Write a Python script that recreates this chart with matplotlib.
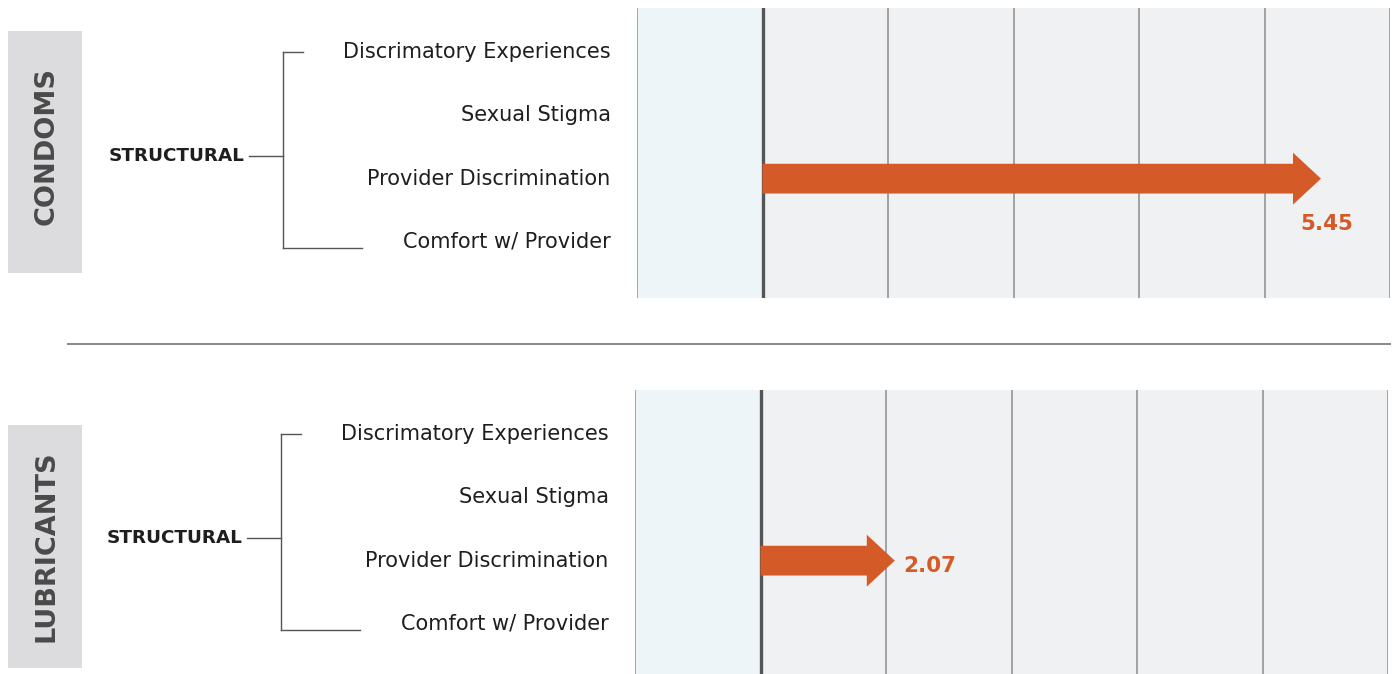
import matplotlib
matplotlib.use("Agg")
import matplotlib.pyplot as plt
from matplotlib.patches import FancyArrow, Rectangle
from matplotlib.lines import Line2D

# ---- data ----
panels = ["CONDOMS", "LUBRICANTS"]
group_label = "STRUCTURAL"
categories = ["Discrimatory Experiences", "Sexual Stigma", "Provider Discrimination", "Comfort w/ Provider"]
condoms_values = [None, None, 5.45, None]
lubricants_values = [None, None, 2.07, None]
panel_values = [condoms_values, lubricants_values]
x_ticks = [0, 1, 2, 3, 4, 5, 6]
null_value = 1

# ---- style ----
ORANGE = "#D45A28"
BLUE_BG = "#EDF5F8"
GRAY_BG = "#F0F1F3"
GRID = "#8C8C8C"
NULL_LINE = "#555555"
BAND = "#DCDCDE"
BAND_TEXT = "#4A4A4A"
TEXT = "#1E1E1E"
LABEL_FONT = "DejaVu Sans"
HEAVY_FONT = "DejaVu Sans"

W, H = 1395, 674
fig = plt.figure(figsize=(W / 100, H / 100), dpi=100)
fig.patch.set_facecolor("white")

# axes positions (pixels): left, top, width, height
axes_px = [(637, 8, 753, 290), (635, 390, 753, 290)]
ylim = (3.885, -0.695)
band_px = [(31, 273), (425, 668)]
band_text_shift = [-0.1, 0.0]
group_y = 1.65

for pi, (panel, vals) in enumerate(zip(panels, panel_values)):
    l, t, w, h = axes_px[pi]
    ax = fig.add_axes([l / W, 1 - (t + h) / H, w / W, h / H])
    ax.set_xlim(x_ticks[0], x_ticks[-1])
    ax.set_ylim(*ylim)
    ax.axvspan(x_ticks[0], null_value, color=BLUE_BG, lw=0, zorder=0)
    ax.axvspan(null_value, x_ticks[-1], color=GRAY_BG, lw=0, zorder=0)
    for xt in x_ticks:
        if xt == null_value:
            ax.axvline(xt, color=NULL_LINE, lw=2.4, zorder=3)
        else:
            ax.axvline(xt, color=GRID, lw=1.1, zorder=1)
    for s in ax.spines.values():
        s.set_visible(False)
    ax.set_xticks([])
    ax.set_yticks(range(len(categories)))
    ax.set_yticklabels(categories, fontsize=15, family=LABEL_FONT, color=TEXT, va="center")
    ax.tick_params(axis="y", length=0, pad=19)

    # arrows
    for i, v in enumerate(vals):
        if v is None:
            continue
        arr = FancyArrow(null_value, i, v - null_value, 0, width=0.47, head_width=0.82,
                         head_length=0.223, length_includes_head=True,
                         color=ORANGE, lw=0, zorder=4)
        ax.add_patch(arr)
        if pi == 0:
            ax.text(v + 0.05, i + 0.72, f"{v:.2f}", color=ORANGE, fontsize=15.5, fontweight="bold",
                    family=HEAVY_FONT, ha="center", va="center", zorder=5)
        else:
            ax.text(v + 0.07, i + 0.08, f"{v:.2f}", color=ORANGE, fontsize=15.5, fontweight="bold",
                    family=HEAVY_FONT, ha="left", va="center", zorder=5)

    tr = ax.get_yaxis_transform()

    def fx(px):
        return (px - l) / w

    # bracket
    bx = fx(l - 354)
    lc = "#555555"
    ax.add_line(Line2D([bx, bx], [0, 3.1], transform=tr, color=lc, lw=1.0, clip_on=False))
    ax.add_line(Line2D([bx, fx(l - 334)], [0, 0], transform=tr, color=lc, lw=1.0, clip_on=False))
    ax.add_line(Line2D([bx, fx(l - 275)], [3.1, 3.1], transform=tr, color=lc, lw=1.0, clip_on=False))
    ax.add_line(Line2D([fx(l - 388), bx], [group_y, group_y], transform=tr, color=lc, lw=1.0, clip_on=False))
    ax.text(fx(l - 393), group_y, group_label, transform=tr, ha="right", va="center",
            fontsize=13.2, fontweight="bold", family=HEAVY_FONT, color=TEXT, clip_on=False)

    # side band
    bt, bb = band_px[pi]
    y0 = (bt - t) / 63.3 + ylim[1]
    y1 = (bb - t) / 63.3 + ylim[1]
    ax.add_patch(Rectangle((fx(8), y0), fx(82) - fx(8), y1 - y0, transform=tr,
                           facecolor=BAND, edgecolor="none", clip_on=False))
    ax.text((fx(10) + fx(84)) / 2, (y0 + y1) / 2 + band_text_shift[pi], panel, transform=tr,
            rotation=90, ha="center", va="center", fontsize=19.5, fontweight="bold",
            family=HEAVY_FONT, color=BAND_TEXT, clip_on=False)

# separator line
fig.add_artist(Line2D([68 / W, 1390 / W], [1 - 344 / H, 1 - 344 / H], color="#888888", lw=1.4))

fig.savefig("out.png", dpi=100, facecolor="white")
